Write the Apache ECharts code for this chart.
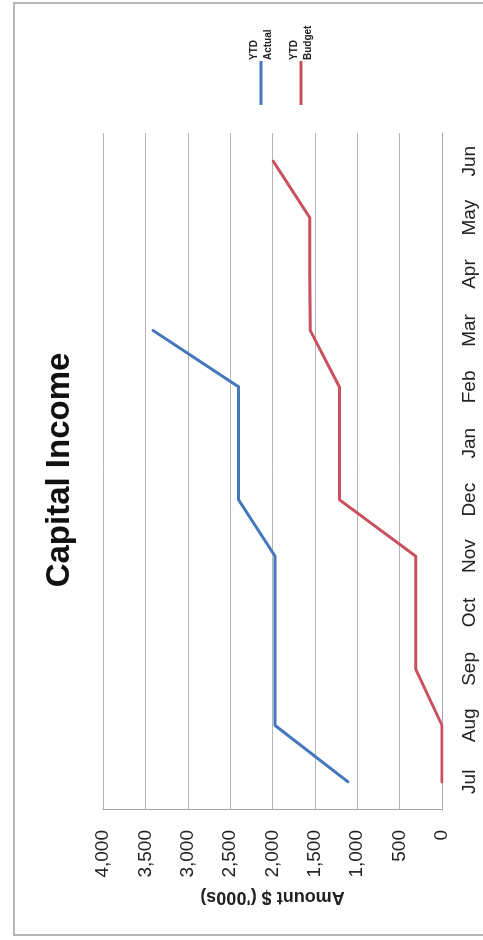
<!DOCTYPE html>
<html>
<head>
<meta charset="utf-8">
<script src="https://cdn.jsdelivr.net/npm/echarts@6/dist/echarts.min.js"></script>
<style>
html,body{margin:0;padding:0;background:#fff;width:483px;height:940px;overflow:hidden;}
#chart{position:absolute;left:0;top:0;width:940px;height:483px;transform-origin:0 0;transform:translate(0,940px) rotate(-90deg);}
</style>
</head>
<body>
<div id="chart"></div>
<script>
const months = ['Jul','Aug','Sep','Oct','Nov','Dec','Jan','Feb','Mar','Apr','May','Jun'];
const ytdActual = [1110, 1970, 1970, 1970, 1970, 2400, 2400, 2400, 3410, null, null, null];
const ytdBudget = [0, 0, 310, 310, 310, 1210, 1210, 1210, 1555, 1560, 1560, 1990];
const valueTicks = {min: 0, max: 4000, interval: 500};
const seriesNames = ['YTD Actual', 'YTD Budget'];
const titleText = 'Capital Income';
const axisName = "Amount $ ('000s)";

const font = '"Liberation Sans", Arial, sans-serif';
const chart = echarts.init(document.getElementById('chart'), null, {renderer: 'canvas'});
chart.setOption({
  animation: false,
  backgroundColor: '#fff',
  title: {
    text: titleText, left: 'center', top: 38,
    textStyle: {fontFamily: font, fontSize: 33, fontWeight: 'bold', color: '#111'}
  },
  graphic: [{
    type: 'rect', shape: {x: 5, y: 14, width: 932, height: 500},
    style: {fill: 'none', stroke: '#a0a0a0', lineWidth: 1.5}, silent: true
  }],
  legend: {
    orient: 'vertical', left: 835, top: 240, padding: 0, itemGap: -2,
    icon: 'rect', itemWidth: 44, itemHeight: 3,
    formatter: n => n.replace(' ', '\n'),
    textStyle: {fontFamily: font, fontSize: 10, fontWeight: 'bold', color: '#222', lineHeight: 14, padding: [14, 0, 0, -4]}
  },
  grid: {left: 130, right: 133, top: 103, bottom: 41, containLabel: false},
  xAxis: {
    type: 'category', data: months, boundaryGap: true,
    axisLine: {show: true, lineStyle: {color: '#a6a6a6', width: 1}},
    axisTick: {show: false},
    axisLabel: {margin: 18, fontFamily: font, fontSize: 19, color: '#222'},
    splitLine: {show: false}
  },
  yAxis: {
    type: 'value', min: valueTicks.min, max: valueTicks.max, interval: valueTicks.interval,
    name: axisName, nameLocation: 'middle', nameRotate: 90, nameGap: 78,
    nameTextStyle: {fontFamily: font, fontSize: 18, fontWeight: 'bold', color: '#222'},
    axisLine: {show: true, lineStyle: {color: '#a6a6a6', width: 1}},
    axisTick: {show: false},
    axisLabel: {margin: 20, fontFamily: font, fontSize: 19, color: '#222',
      formatter: v => v.toLocaleString('en-US')},
    splitLine: {show: true, lineStyle: {color: '#b3b3b3', width: 1}}
  },
  series: [
    {name: seriesNames[0], type: 'line', data: ytdActual, symbol: 'none', connectNulls: false,
     lineStyle: {color: '#4477bb', width: 3, cap: 'round', join: 'round'}, itemStyle: {color: '#4477bb'}},
    {name: seriesNames[1], type: 'line', data: ytdBudget, symbol: 'none',
     lineStyle: {color: '#c9505e', width: 3, cap: 'round', join: 'round'}, itemStyle: {color: '#c9505e'}}
  ]
});
</script>
</body>
</html>
